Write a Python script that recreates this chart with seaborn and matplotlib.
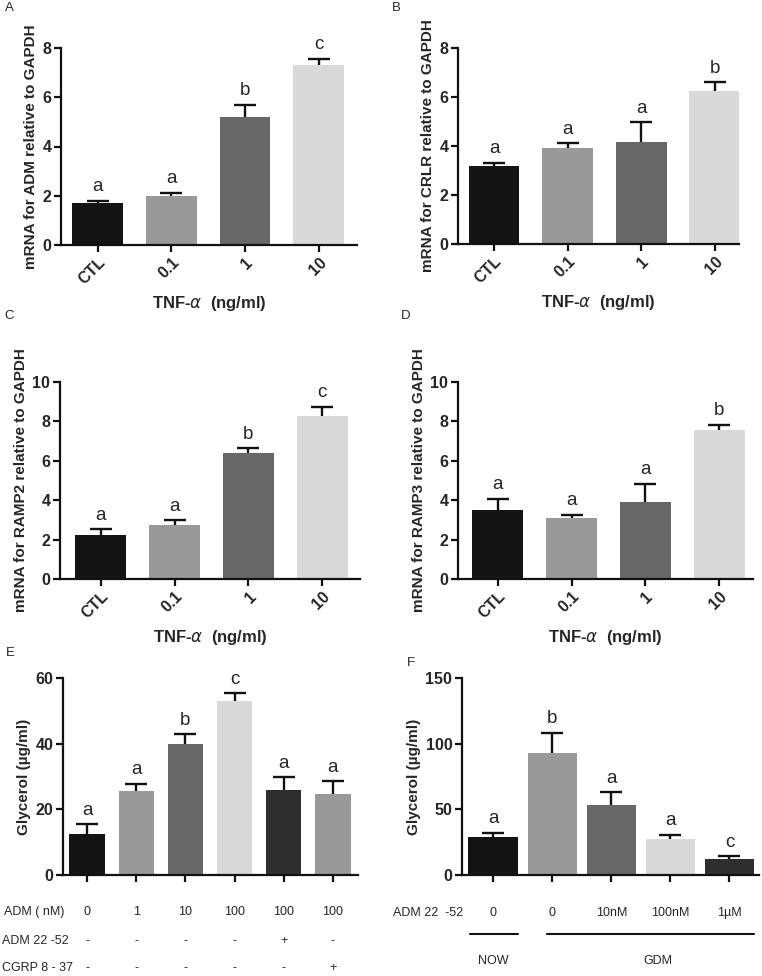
"""
Six-panel bar figure: TNF-alpha effects on ADM / receptor mRNA, and glycerol release.
"""
import numpy as np
import pandas as pd
import matplotlib
matplotlib.use("Agg")
import matplotlib.pyplot as plt
import seaborn as sns

# ================================================================================
# Data
# ================================================================================
tnf_doses = ["CTL", "0.1", "1", "10"]

adm_mean  = [1.7, 2.0, 5.2, 7.3]
adm_err   = [0.1, 0.12, 0.5, 0.27]
adm_sig   = ["a", "a", "b", "c"]

crlr_mean = [3.2, 3.92, 4.18, 6.25]
crlr_err  = [0.12, 0.2, 0.78, 0.35]
crlr_sig  = ["a", "a", "a", "b"]

ramp2_mean = [2.22, 2.72, 6.42, 8.28]
ramp2_err  = [0.3, 0.25, 0.22, 0.47]
ramp2_sig  = ["a", "a", "b", "c"]

ramp3_mean = [3.5, 3.1, 3.92, 7.58]
ramp3_err  = [0.57, 0.15, 0.9, 0.25]
ramp3_sig  = ["a", "a", "a", "b"]

glyc_e_mean = [12.5, 25.5, 39.8, 53.0, 26.0, 24.8]
glyc_e_err  = [3.0, 2.2, 3.0, 2.4, 3.8, 3.7]
glyc_e_sig  = ["a", "a", "b", "c", "a", "a"]
adm_nm      = ["0", "1", "10", "100", "100", "100"]
adm2252_e   = ["-", "-", "-", "-", "+", "-"]
cgrp837_e   = ["-", "-", "-", "-", "-", "+"]

glyc_f_mean = [29.0, 93.0, 53.0, 27.5, 12.0]
glyc_f_err  = [3.0, 15.5, 10.0, 3.0, 2.2]
glyc_f_sig  = ["a", "b", "a", "a", "c"]
adm2252_f   = ["0", "0", "10nM", "100nM", "1µM"]

# ================================================================================
# Styling
# ================================================================================
sns.set_style("ticks")
plt.rcParams["font.family"] = ["Liberation Sans", "DejaVu Sans"]

W, H = 762, 976
BLACK, MID, DARK, LIGHT, CHAR = "#141414", "#999999", "#676767", "#d9d9d9", "#2e2e2e"
TICK_FONT  = {"fontsize": 11.5, "fontweight": "bold"}
YLAB_FONT  = {"fontsize": 11, "fontweight": "bold"}
XLAB_FONT  = {"fontsize": 12, "fontweight": "bold"}
SIG_FONT   = {"fontsize": 13.5}
PANEL_FONT = {"fontsize": 9.5}
ROW_FONT   = {"fontsize": 9}

fig = plt.figure(figsize=(W / 100, H / 100), dpi=100)


def add_axes_px(left, top, right, bottom):
    """Axes placed with pixel edges measured from the top-left corner."""
    return fig.add_axes([left / W, 1 - bottom / H, (right - left) / W, (bottom - top) / H])


def bar_panel(ax, means, errs, sigs, colors, ylim, yticks, width, xlim, ylabel):
    ids = [f"g{i}" for i in range(len(means))]
    df = pd.DataFrame({"grp": ids, "val": means})
    sns.barplot(data=df, x="grp", y="val", hue="grp", palette=colors, legend=False,
                width=width, saturation=1, linewidth=0, errorbar=None, ax=ax)
    # upper-only error bars (hide the lower cap sitting on the bar top)
    _, caps, _ = ax.errorbar(range(len(means)), means, yerr=[np.zeros(len(errs)), errs],
                             fmt="none", ecolor="#111111", elinewidth=1.7, capsize=8,
                             capthick=1.7, zorder=3)
    caps[0].set_visible(False)
    for i, (m, e, s) in enumerate(zip(means, errs, sigs)):
        ax.annotate(s, (i, m + e), xytext=(0, 4), textcoords="offset points",
                    ha="center", va="bottom", **SIG_FONT)
    ax.set_ylim(*ylim)
    ax.set_yticks(yticks)
    ax.set_xlim(*xlim)
    ax.set_xlabel("")
    ax.set_ylabel(ylabel, labelpad=3, **YLAB_FONT)
    for side in ("top", "right"):
        ax.spines[side].set_visible(False)
    for side in ("left", "bottom"):
        ax.spines[side].set_linewidth(1.6)
        ax.spines[side].set_color("#111111")
    ax.tick_params(axis="both", length=5, width=1.6, color="#111111", direction="out", pad=2)
    for lab in ax.get_yticklabels():
        lab.set_fontweight("bold"); lab.set_fontsize(11.5)


def tnf_panel(ax, means, errs, sigs, ylim, yticks, xlim, ylabel):
    bar_panel(ax, means, errs, sigs, [BLACK, MID, DARK, LIGHT], ylim, yticks, 0.69, xlim, ylabel)
    ax.set_xticks(range(len(tnf_doses)))
    ax.set_xticklabels(tnf_doses, rotation=45, ha="right", rotation_mode="anchor", **TICK_FONT)
    ax.set_xlabel(r"TNF-$\alpha$  (ng/ml)", labelpad=5, **XLAB_FONT)


# --------------------------------------------------------------------------------
# A - D
# --------------------------------------------------------------------------------
axA = add_axes_px(61, 48, 357, 245)
tnf_panel(axA, adm_mean, adm_err, adm_sig, (0, 8), [0, 2, 4, 6, 8], (-0.5, 3.52),
          "mRNA for ADM relative to GAPDH")
axB = add_axes_px(458, 48, 739, 244)
tnf_panel(axB, crlr_mean, crlr_err, crlr_sig, (0, 8), [0, 2, 4, 6, 8], (-0.49, 3.33),
          "mRNA for CRLR relative to GAPDH")
axC = add_axes_px(60, 382, 360, 579)
tnf_panel(axC, ramp2_mean, ramp2_err, ramp2_sig, (0, 10), [0, 2, 4, 6, 8, 10], (-0.55, 3.51),
          "mRNA for RAMP2 relative to GAPDH")
axD = add_axes_px(458, 382, 753, 579)
tnf_panel(axD, ramp3_mean, ramp3_err, ramp3_sig, (0, 10), [0, 2, 4, 6, 8, 10], (-0.54, 3.46),
          "mRNA for RAMP3 relative to GAPDH")

# --------------------------------------------------------------------------------
# E
# --------------------------------------------------------------------------------
axE = add_axes_px(63, 678, 358, 875)
bar_panel(axE, glyc_e_mean, glyc_e_err, glyc_e_sig, [BLACK, MID, DARK, LIGHT, CHAR, MID],
          (0, 60), [0, 20, 40, 60], 0.72, (-0.49, 5.51), "Glycerol (µg/ml)")
axE.set_xticks(range(len(adm_nm)))
axE.set_xticklabels([])
for row, dy in zip([adm_nm, adm2252_e, cgrp837_e], [37, 66, 93]):
    for i, t in enumerate(row):
        axE.annotate(t, (i, 0), xycoords=("data", "axes fraction"), xytext=(0, -dy * 0.72),
                     textcoords="offset points", ha="center", va="center", **ROW_FONT)
fig.text(34 / W, 1 - 912 / H, "ADM ( nM)", ha="center", va="center", **ROW_FONT)
for t, dy in zip(["ADM 22 -52", "CGRP 8 - 37"], [941, 968]):
    fig.text(2 / W, 1 - dy / H, t, ha="left", va="center", **ROW_FONT)

# --------------------------------------------------------------------------------
# F
# --------------------------------------------------------------------------------
axF = add_axes_px(462, 678, 759, 875)
bar_panel(axF, glyc_f_mean, glyc_f_err, glyc_f_sig, [BLACK, MID, DARK, LIGHT, CHAR],
          (0, 150), [0, 50, 100, 150], 0.84, (-0.53, 4.5), "Glycerol (µg/ml)")
axF.set_xticks(range(len(adm2252_f)))
axF.set_xticklabels([])
for i, t in enumerate(adm2252_f):
    axF.annotate(t, (i, 0), xycoords=("data", "axes fraction"), xytext=(0, -38 * 0.72),
                 textcoords="offset points", ha="center", va="center", **ROW_FONT)
fig.text(428 / W, 1 - 913 / H, "ADM 22  -52", ha="center", va="center", **ROW_FONT)
# group brackets (NOW / GDM)
fig.add_artist(plt.Line2D([470 / W, 518 / W], [1 - 934 / H] * 2, color="#111111", lw=1.5))
fig.add_artist(plt.Line2D([547 / W, 754 / W], [1 - 934 / H] * 2, color="#111111", lw=1.5))
fig.text(493 / W, 1 - 961 / H, "NOW", ha="center", va="center", **ROW_FONT)
fig.text(658 / W, 1 - 961 / H, "GDM", ha="center", va="center", **ROW_FONT)

# --------------------------------------------------------------------------------
# Panel letters
# --------------------------------------------------------------------------------
for letter, (x, y) in {"A": (9, 8), "B": (396, 8), "C": (9, 316), "D": (406, 316),
                       "E": (10, 653), "F": (411, 663)}.items():
    fig.text(x / W, 1 - y / H, letter, ha="center", va="center", **PANEL_FONT)

fig.savefig("out.png", dpi=100)
